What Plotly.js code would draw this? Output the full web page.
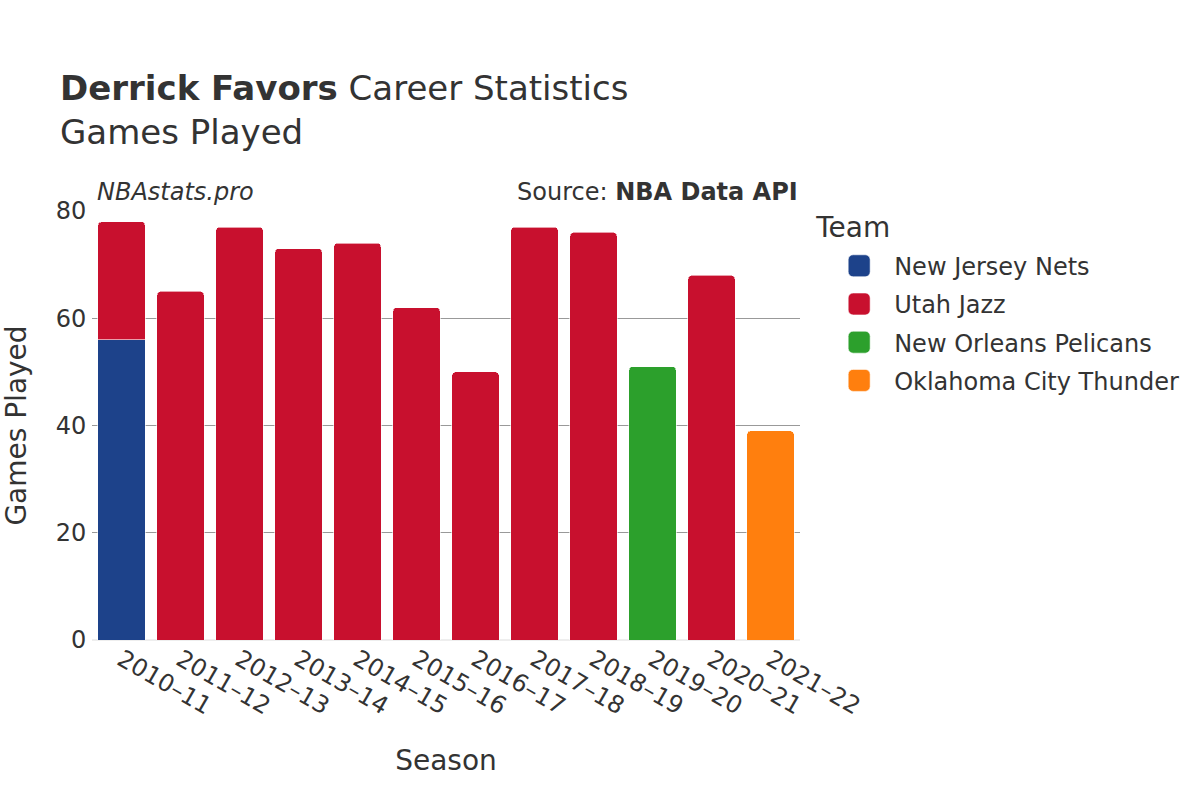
<!DOCTYPE html>
<html><head><meta charset="utf-8">
<script src="https://cdn.plot.ly/plotly-3.0.1.min.js"></script>
<style>html,body{margin:0;padding:0;background:#fff}#chart{width:1200px;height:800px}</style>
</head><body><div id="chart"></div>
<script>
const seasons = ["2010–11","2011–12","2012–13","2013–14","2014–15","2015–16","2016–17","2017–18","2018–19","2019–20","2020–21","2021–22"];
const teams = ["New Jersey Nets","Utah Jazz","New Orleans Pelicans","Oklahoma City Thunder"];
const netsGames = [56,null,null,null,null,null,null,null,null,null,null,null];
const jazzGames = [22,65,77,73,74,62,50,77,76,null,68,null];
const pelicansGames = [null,null,null,null,null,null,null,null,null,51,null,null];
const thunderGames = [null,null,null,null,null,null,null,null,null,null,null,39];
const teamColors = ["#1d428a","#c8102e","#2ca02c","#ff7f0e"];
const seriesValues = [netsGames, jazzGames, pelicansGames, thunderGames];

const font = "DejaVu Sans, sans-serif";
const traces = teams.map((t,i)=>({
  type:"bar", name:t, x:seasons, y:seriesValues[i], legendgroup:"g"+i,
  marker:{color:teamColors[i], line:{color:"rgba(255,255,255,0.6)", width:1}}
}));

const layout = {
  width:1200, height:800,
  font:{family:font, color:"#333"},
  paper_bgcolor:"#fff", plot_bgcolor:"#fff",
  barmode:"stack", bargap:0.2, barcornerradius:4,
  margin:{l:92, r:400, t:211, b:160},
  title:{text:"<b>Derrick Favors</b> Career Statistics<br>Games Played", x:0.05, xanchor:"left", y:0.875, yanchor:"top", font:{size:34, family:font, color:"#333"}},
  xaxis:{title:{text:"Season", font:{size:28}, standoff:30}, tickangle:30, tickfont:{size:24}, type:"category", showgrid:false, zeroline:false},
  yaxis:{title:{text:"Games Played", font:{size:28}, standoff:20}, range:[0,80], tickvals:[0,20,40,60,80], tickfont:{size:24}, gridcolor:"#999", gridwidth:1, zeroline:true, zerolinecolor:"#eee", zerolinewidth:2, ticks:"outside", ticklen:0},
  legend:{title:{text:"Team", font:{size:28}}, font:{size:24}, traceorder:"grouped", x:1.02, y:1.025, xanchor:"left", yanchor:"top", itemwidth:70, tracegroupgap:4},
  annotations:[
    {text:"<i>NBAstats.pro</i>", xref:"paper", yref:"paper", x:0.0, y:1.0, xanchor:"left", yanchor:"bottom", xshift:3, yshift:3, showarrow:false, font:{size:24, color:"#333"}},
    {text:"Source: <b>NBA Data API</b>", xref:"paper", yref:"paper", x:1.0, y:1.0, xanchor:"right", yanchor:"bottom", xshift:0, yshift:3, showarrow:false, font:{size:24, color:"#333"}}
  ]
};
Plotly.newPlot("chart", traces, layout, {displayModeBar:false}).then(gd=>{
  gd.querySelectorAll(".legendpoints path").forEach(p=>{
    p.setAttribute("d","M-6,-6A5,5 0 0 1 -1,-11H11A5,5 0 0 1 16,-6V6A5,5 0 0 1 11,11H-1A5,5 0 0 1 -6,6Z");
  });
  gd.querySelectorAll(".legend .groups").forEach(g=>{
    const t = g.getAttribute("transform") || "";
    g.setAttribute("transform", t + " translate(0,7)");
  });
});
</script></body></html>
